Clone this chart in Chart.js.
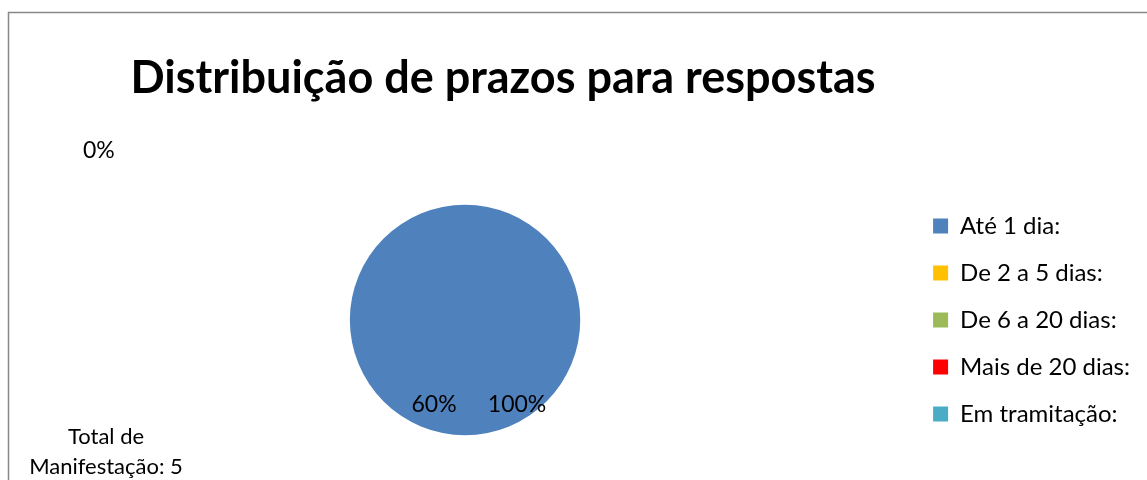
<!DOCTYPE html>
<html lang="pt">
<head>
    <meta charset="UTF-8">
    <title>Distribuição de prazos para respostas</title>
    <script src="https://cdn.jsdelivr.net/npm/chart.js"></script>
    <style>
        body { margin: 0; background: #fff; }
    </style>
</head>
<body>
    <canvas id="prazosPie" width="1147" height="480"></canvas>

    <script>
        const chartTitle = 'Distribuição de prazos para respostas';
        const categories = ['Até 1 dia:', 'De 2 a 5 dias:', 'De 6 a 20 dias:', 'Mais de 20 dias:', 'Em tramitação:'];
        const counts = [5, 0, 0, 0, 0];
        const sliceColors = ['#4F81BD', '#FFC000', '#9BBB59', '#FF0000', '#4BACC6'];
        // leftover labels Excel put on the chart
        const extraLabels = ['60%', '0%'];

        const total = counts.reduce((a, b) => a + b, 0);
        const fontFamily = 'Lato, "Open Sans", sans-serif';

        // title, percentages, total note and the frame
        const textPlugin = {
            id: 'textPlugin',
            beforeDraw(chart) {
                const ctx = chart.ctx;
                ctx.save();
                ctx.strokeStyle = '#888888';
                ctx.lineWidth = 1.5;
                ctx.beginPath();
                ctx.moveTo(8.5, 1200);
                ctx.lineTo(8.5, 12.5);
                ctx.lineTo(1200, 12.5);
                ctx.stroke();
                ctx.restore();
            },
            afterDraw(chart) {
                const ctx = chart.ctx;
                const arc = chart.getDatasetMeta(0).data[0];
                const cx = arc.x, cy = arc.y;
                ctx.save();
                ctx.fillStyle = '#000';
                ctx.textBaseline = 'alphabetic';

                ctx.textAlign = 'center';
                ctx.font = 'bold 45px ' + fontFamily;
                ctx.fillText(chartTitle, 503, 93);

                ctx.font = '23px ' + fontFamily;
                const pct = Math.round(counts[0] / total * 100) + '%';
                ctx.fillText(pct, cx + 52, cy + 92);
                ctx.fillText(extraLabels[0], cx - 31, cy + 92);

                ctx.textAlign = 'left';
                ctx.fillText(extraLabels[1], 83, 158);

                ctx.textAlign = 'center';
                ctx.font = '22px ' + fontFamily;
                ctx.fillText('Total de', 106, 444);
                ctx.fillText('Manifestação: ' + total, 106, 474);
                ctx.restore();
            }
        };

        const ctx = document.getElementById('prazosPie').getContext('2d');
        new Chart(ctx, {
            type: 'pie',
            data: {
                labels: categories,
                datasets: [{
                    data: counts,
                    backgroundColor: sliceColors,
                    borderWidth: 0
                }]
            },
            options: {
                responsive: false,
                animation: false,
                radius: '72%',
                layout: {
                    padding: { left: 20, right: 7, top: 160, bottom: 0 }
                },
                plugins: {
                    title: { display: false },
                    tooltip: { enabled: false },
                    legend: {
                        position: 'right',
                        align: 'center',
                        labels: {
                            boxWidth: 15,
                            boxHeight: 15,
                            padding: 23,
                            color: '#000',
                            font: { family: fontFamily, size: 24 }
                        }
                    }
                }
            },
            plugins: [textPlugin]
        });
    </script>
</body>
</html>
